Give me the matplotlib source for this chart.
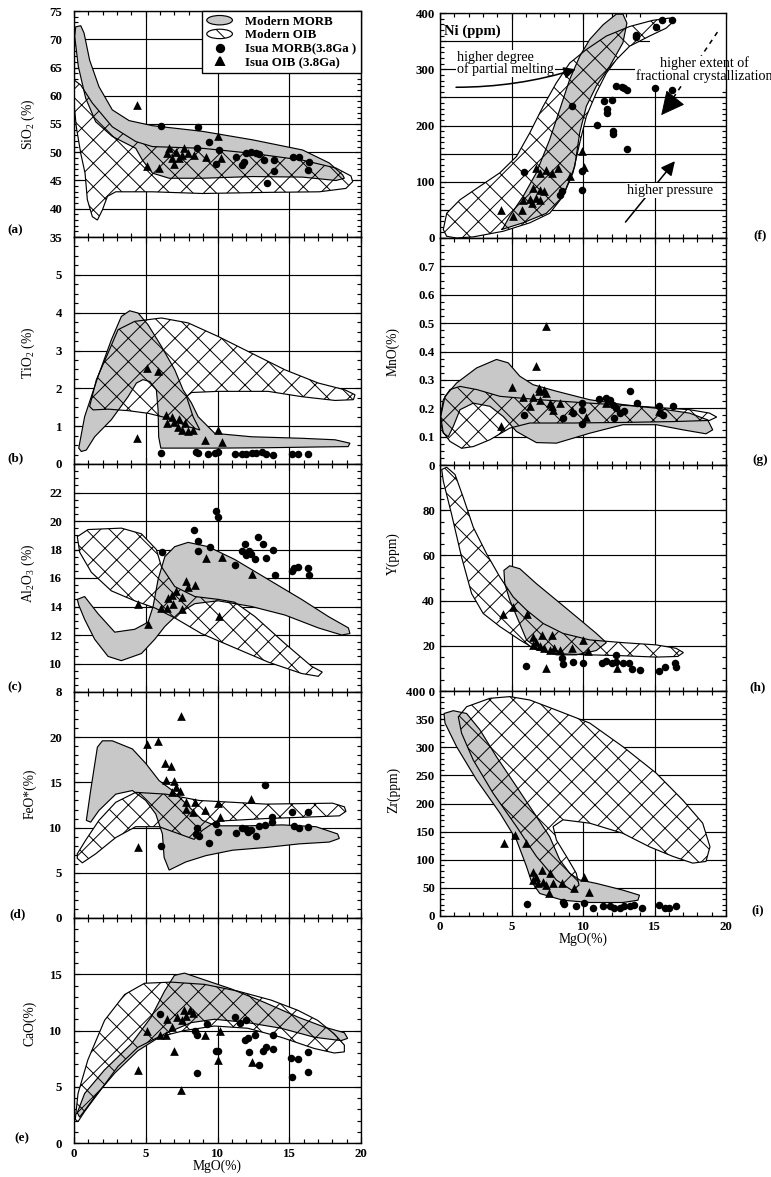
import matplotlib
matplotlib.use("Agg")
import matplotlib.pyplot as plt
import matplotlib.patches as mpatches
from matplotlib.lines import Line2D
from matplotlib.legend_handler import HandlerPatch
from matplotlib.ticker import MultipleLocator

plt.rcParams['font.family'] = ['Liberation Serif', 'DejaVu Serif']
plt.rcParams['mathtext.fontset'] = 'custom'
plt.rcParams['mathtext.rm'] = 'Liberation Serif'
plt.rcParams['hatch.linewidth'] = 0.5
plt.rcParams['axes.linewidth'] = 0.7

W, H, DPI = 771, 1177, 140
MORB_GREY = '#c8c8c8'
OIB_HATCH = 'xx'

# ---------------- data (MgO %, oxide / ppm) ----------------
X_TICKS = [0, 5, 10, 15, 20]
X_LABELS = ['0', '5', '10', '15', '20']
LEGEND_LABELS = ['Modern MORB', 'Modern OIB', 'Isua MORB(3.8Ga )', 'Isua OIB (3.8Ga)']

# (a) SiO2
SIO2_MORB = [(0.47, 72.4), (0.70, 71.1), (1.09, 66.3), (1.74, 61.6), (2.67, 57.5), (3.84, 55.6),
             (5.47, 54.7), (8.95, 53.7), (12.44, 52.2), (15.93, 50.4), (17.79, 48.1), (18.72, 46.0),
             (18.84, 45.4), (18.26, 45.0), (15.93, 45.6), (12.44, 45.7), (8.95, 45.4), (6.63, 45.4),
             (5.47, 46.3), (4.77, 48.6), (4.30, 50.7), (2.67, 52.8), (1.51, 55.4), (0.81, 59.6),
             (0.30, 65.2), (0.05, 70.5), (0.12, 72.2)]
SIO2_OIB = [(0.0, 62.8), (0.47, 61.9), (1.28, 58.7), (2.67, 54.5), (4.30, 51.9), (5.47, 51.0),
            (8.95, 50.7), (12.44, 49.8), (15.93, 48.6), (18.26, 47.2), (19.30, 45.8), (19.42, 44.8),
            (18.95, 43.6), (17.09, 43.0), (13.60, 42.9), (8.95, 42.7), (5.47, 43.0), (2.91, 43.0),
            (2.33, 42.2), (1.98, 39.8), (1.63, 38.0), (1.28, 38.6), (0.93, 41.6), (0.77, 46.3),
            (0.47, 49.8), (0.16, 54.5), (0.0, 58.7)]
SIO2_ISUA_MORB = [(6.05, 54.7), (8.65, 54.4), (9.42, 51.9), (10.12, 50.4), (9.88, 48.0), (11.28, 49.2),
                  (11.74, 47.8), (11.86, 48.2), (11.98, 49.8), (12.33, 50.1), (12.67, 49.9), (12.9, 49.7),
                  (13.26, 48.6), (13.95, 48.6), (13.95, 46.7), (13.42, 44.5), (15.23, 49.1), (15.7, 49.2),
                  (16.4, 48.3), (16.28, 46.9), (8.6, 50.7)]
SIO2_ISUA_OIB = [(4.42, 58.4), (5.12, 47.5), (5.93, 47.2), (6.51, 49.8), (6.63, 50.7), (6.86, 48.9),
                 (6.98, 48.0), (7.09, 50.1), (7.33, 48.9), (7.56, 49.5), (7.67, 50.7), (7.91, 49.8),
                 (8.37, 49.5), (9.19, 49.2), (10.0, 52.9), (10.23, 48.9)]
SIO2_TICKS = [35, 40, 45, 50, 55, 60, 65, 70, 75]
SIO2_LABELS = ['35', '40', '45', '50', '55', '60', '65', '70', '75']

# (b) TiO2
TIO2_MORB = [(0.33, 0.42), (0.74, 1.25), (1.67, 2.31), (2.6, 3.28), (3.3, 3.9), (3.88, 4.05),
             (4.47, 3.99), (5.16, 3.68), (6.09, 3.11), (7.02, 2.49), (7.6, 1.96), (8.19, 1.61),
             (8.65, 1.25), (9.81, 0.81), (12.37, 0.72), (15.86, 0.68), (18.19, 0.64), (19.23, 0.55),
             (19.1, 0.46), (17.0, 0.45), (13.5, 0.43), (10.05, 0.42), (7.02, 0.42), (6.05, 0.42),
             (5.9, 0.72), (5.86, 1.43), (5.74, 1.96), (5.28, 2.18), (4.81, 2.23), (4.35, 2.14),
             (3.77, 1.78), (2.6, 1.17), (1.44, 0.72), (0.86, 0.37), (0.51, 0.33)]
TIO2_OIB = [(1.09, 1.52), (1.56, 2.23), (2.37, 2.93), (3.07, 3.55), (4.23, 3.77), (6.09, 3.86),
            (7.95, 3.73), (10.05, 3.37), (12.37, 2.93), (14.7, 2.49), (17.02, 2.14), (18.88, 1.96),
            (19.58, 1.83), (19.47, 1.70), (18.19, 1.68), (15.86, 1.78), (13.53, 1.92), (10.05, 1.92),
            (8.19, 1.89), (7.84, 1.78), (8.3, 1.25), (8.77, 0.9), (7.95, 0.99), (6.56, 1.21),
            (5.16, 1.34), (3.77, 1.41), (2.37, 1.45), (1.33, 1.43)]
TIO2_ISUA_MORB = [(6.05, 0.3), (8.5, 0.32), (8.65, 0.28), (9.35, 0.27), (9.8, 0.3), (10.05, 0.33),
                  (11.2, 0.27), (11.7, 0.27), (12.0, 0.27), (12.4, 0.28), (12.7, 0.3), (13.1, 0.31),
                  (13.4, 0.26), (13.9, 0.25), (15.2, 0.27), (15.6, 0.26), (16.3, 0.27)]
TIO2_ISUA_OIB = [(4.42, 0.68), (5.1, 2.53), (5.86, 2.47), (6.4, 1.3), (6.51, 1.08), (6.86, 1.25),
                 (7.0, 1.12), (7.26, 0.99), (7.3, 1.2), (7.5, 0.9), (7.74, 1.08), (7.95, 0.86),
                 (8.3, 0.9), (9.16, 0.64), (10.05, 0.9), (10.28, 0.57)]
TIO2_TICKS = [0, 1, 2, 3, 4, 5, 6]
TIO2_LABELS = ['0', '1', '2', '3', '4', '5', '']

# (c) Al2O3
AL2O3_MORB = [(0.23, 14.5), (0.74, 14.7), (1.67, 13.5), (2.84, 12.2), (4.23, 12.4), (5.16, 12.9),
              (5.51, 14.0), (5.86, 15.9), (6.33, 17.5), (7.02, 18.2), (7.95, 18.5), (9.35, 18.2),
              (11.2, 17.3), (13.53, 15.9), (15.86, 14.5), (17.72, 13.3), (19.12, 12.5), (19.23, 12.1),
              (18.65, 12.0), (17.02, 12.5), (14.7, 13.4), (12.37, 14.0), (10.05, 14.4), (8.42, 14.2),
              (7.26, 13.5), (6.33, 12.6), (5.63, 11.7), (4.7, 10.7), (3.3, 10.2), (2.37, 10.5),
              (1.44, 11.7), (0.74, 13.1), (0.33, 14.1)]
AL2O3_OIB = [(0.23, 18.9), (0.98, 19.4), (3.3, 19.5), (4.7, 19.1), (5.74, 18.0), (6.09, 16.8),
             (7.02, 15.4), (8.42, 14.7), (10.05, 14.5), (11.2, 14.3), (12.6, 13.3), (14.7, 11.4),
             (16.56, 9.8), (17.3, 9.4), (17.02, 9.1), (15.86, 9.3), (13.53, 10.1), (11.2, 11.1),
             (8.88, 12.1), (7.02, 13.2), (5.63, 13.9), (4.23, 14.4), (2.6, 15.1), (1.21, 16.4),
             (0.4, 17.8)]
AL2O3_ISUA_MORB = [(8.37, 19.4), (8.65, 18.6), (8.65, 17.9), (9.5, 18.2), (9.93, 20.7), (10.05, 20.3),
                   (6.1, 17.8), (11.2, 16.9), (11.9, 18.4), (11.7, 17.9), (12.2, 17.9), (12.0, 17.6),
                   (12.3, 17.7), (12.6, 17.3), (12.8, 18.9), (13.2, 18.4), (13.4, 17.4), (13.9, 18.0),
                   (14.0, 16.2), (15.2, 16.5), (15.3, 16.7), (15.6, 16.8), (16.3, 16.7), (16.4, 16.2)]
AL2O3_ISUA_OIB = [(4.47, 14.2), (5.16, 12.8), (6.05, 13.9), (6.5, 13.9), (6.56, 14.6), (6.8, 14.8),
                  (7.1, 15.1), (7.5, 14.7), (7.5, 13.8), (7.8, 15.8), (7.95, 15.4), (8.4, 15.5),
                  (9.2, 17.4), (10.3, 17.5), (12.4, 16.3), (10.1, 13.3), (6.9, 14.2)]
AL2O3_TICKS = [8, 10, 12, 14, 16, 18, 20, 22, 24]
AL2O3_LABELS = ['8', '10', '12', '14', '16', '18', '20', '22', '']

# (d) FeO*
FEO_MORB = [(0.86, 10.8), (1.16, 14.1), (1.63, 18.9), (1.98, 19.6), (2.67, 19.6), (4.07, 18.7),
            (5.0, 17.1), (5.93, 15.2), (6.86, 14.1), (8.02, 12.3), (8.95, 10.8), (9.88, 10.2),
            (12.2, 10.2), (14.53, 10.3), (16.86, 10.1), (18.37, 9.3), (18.49, 8.8), (17.79, 8.4),
            (15.7, 8.2), (13.37, 7.8), (11.05, 7.5), (9.19, 6.9), (7.79, 6.2), (6.63, 5.3),
            (6.28, 6.7), (6.16, 9.3), (5.7, 11.5), (5.0, 13.0), (4.07, 14.1), (2.91, 13.7),
            (1.74, 11.9), (1.16, 10.6)]
FEO_OIB = [(0.23, 7.1), (0.81, 8.6), (1.74, 10.8), (2.91, 12.8), (4.3, 13.9), (6.4, 13.7),
           (8.72, 13.0), (13.37, 12.6), (18.02, 12.7), (18.84, 12.3), (18.95, 11.8), (18.49, 11.3),
           (16.86, 11.2), (13.37, 11.0), (9.88, 10.7), (8.95, 9.7), (8.37, 8.7), (7.33, 9.3),
           (5.93, 10.1), (4.3, 10.1), (2.91, 8.9), (1.51, 7.1), (0.58, 6.1), (0.23, 6.6)]
FEO_ISUA_MORB = [(6.05, 8.0), (8.6, 10.0), (8.5, 9.3), (8.7, 9.1), (9.9, 10.4), (10.0, 9.5), (9.4, 8.3),
                 (11.3, 9.4), (11.7, 10.0), (12.0, 9.9), (12.1, 9.5), (12.3, 9.7), (12.7, 9.1),
                 (12.9, 10.2), (13.3, 10.3), (13.3, 14.7), (13.8, 11.2), (13.8, 10.6), (15.2, 11.7),
                 (15.3, 10.2), (15.7, 10.0), (16.3, 11.7), (16.3, 10.1)]
FEO_ISUA_OIB = [(7.44, 22.4), (5.07, 19.3), (5.86, 19.6), (6.33, 17.1), (6.74, 16.8), (6.4, 15.3),
                (7.0, 15.2), (6.86, 13.9), (7.1, 14.5), (7.4, 14.1), (7.8, 12.8), (8.4, 12.8),
                (7.8, 12.1), (8.3, 11.7), (9.1, 11.9), (10.0, 12.7), (10.2, 11.2), (12.3, 13.2),
                (4.47, 7.8)]
FEO_TICKS = [0, 5, 10, 15, 20, 25]
FEO_LABELS = ['0', '5', '10', '15', '20', '']

# (e) CaO
CAO_MORB = [(0.23, 2.7), (0.74, 4.4), (2.13, 6.5), (3.99, 8.8), (5.38, 11.2), (6.31, 13.5),
            (7.0, 14.9), (7.7, 15.1), (8.63, 14.7), (10.95, 13.7), (13.27, 12.5), (15.59, 11.2),
            (17.45, 10.3), (18.84, 9.8), (19.07, 9.3), (18.61, 9.1), (16.75, 9.4), (14.43, 10.2),
            (12.11, 10.7), (9.79, 11.0), (8.17, 10.7), (6.31, 9.7), (4.45, 8.2), (2.83, 6.2),
            (1.44, 4.1), (0.63, 2.7), (0.39, 2.3)]
CAO_OIB = [(0.09, 2.1), (0.28, 4.4), (0.97, 7.4), (2.13, 10.9), (3.53, 13.2), (4.92, 14.2),
           (6.77, 14.3), (9.1, 14.1), (11.42, 13.5), (13.74, 12.7), (15.59, 11.8), (16.98, 10.9),
           (18.14, 9.7), (18.84, 8.7), (18.84, 8.1), (18.14, 8.0), (16.75, 8.4), (14.43, 9.4),
           (12.11, 10.2), (9.79, 10.4), (7.7, 10.0), (5.85, 9.4), (4.45, 8.5), (3.06, 6.8),
           (1.67, 4.4), (0.74, 2.8), (0.28, 1.9)]
CAO_ISUA_MORB = [(6.0, 11.5), (8.6, 9.6), (8.4, 10.0), (9.3, 10.6), (8.6, 6.2), (9.9, 8.2), (10.0, 8.2),
                 (11.2, 11.2), (11.6, 10.7), (12.0, 10.9), (11.9, 9.2), (12.1, 9.3), (12.6, 9.6),
                 (12.2, 8.1), (12.9, 6.9), (13.2, 8.2), (13.4, 8.5), (13.9, 8.4), (13.9, 9.6),
                 (15.1, 7.6), (15.6, 7.5), (15.2, 5.9), (16.3, 8.1), (16.3, 6.3)]
CAO_ISUA_OIB = [(4.45, 6.5), (5.1, 10.0), (5.96, 9.6), (6.4, 9.6), (6.5, 11.0), (6.8, 10.3),
                (7.2, 11.2), (7.5, 10.9), (7.7, 11.8), (7.8, 11.3), (8.05, 11.8), (8.3, 11.6),
                (7.0, 8.2), (7.47, 4.7), (9.14, 9.6), (10.0, 7.35), (10.2, 10.0), (12.4, 7.2)]
CAO_TICKS = [0, 5, 10, 15, 20]
CAO_LABELS = ['0', '5', '10', '15', '']

# (f) Ni
NI_MORB = [(4.3, 15), (5.81, 27), (7.44, 44), (8.6, 74), (9.42, 127), (9.77, 187), (10.23, 234),
           (10.93, 270), (11.86, 305), (12.79, 347), (13.07, 382), (12.79, 398), (12.33, 398),
           (11.4, 379), (10.47, 353), (9.77, 323), (9.07, 282), (8.37, 228), (7.67, 175),
           (6.74, 116), (5.81, 74), (4.88, 39), (4.42, 18)]
NI_OIB = [(0.23, 15), (0.47, 44), (1.4, 68), (2.79, 92), (4.19, 116), (5.35, 145), (6.28, 187),
          (7.21, 234), (8.14, 276), (9.07, 311), (10.23, 335), (11.63, 359), (13.26, 376), (14.88, 387),
          (16.05, 391), (16.33, 385), (15.81, 373), (14.65, 359), (13.26, 341), (12.33, 317),
          (11.63, 293), (10.93, 258), (10.23, 216), (9.77, 169), (9.3, 116), (8.6, 74), (7.67, 44),
          (6.28, 27), (4.42, 12), (2.33, 2), (1.16, 0), (0.47, 3)]
NI_ISUA_MORB = [(5.86, 117), (9.26, 234), (8.37, 77), (8.5, 83), (9.9, 85), (9.9, 120), (11.0, 201),
                (11.5, 243), (11.7, 229), (11.7, 222), (12.0, 246), (12.1, 190), (12.1, 185),
                (12.3, 271), (12.7, 268), (12.9, 267), (13.1, 264), (13.1, 158), (13.7, 361),
                (13.7, 358), (15.0, 267), (15.1, 376), (15.5, 387), (16.2, 264), (16.2, 388)]
NI_ISUA_OIB = [(4.3, 49), (5.07, 40), (5.7, 50), (5.8, 68), (6.3, 69), (6.4, 62), (6.7, 71), (7.0, 68),
               (6.5, 89), (7.0, 86), (7.3, 83), (6.74, 124), (7.0, 115), (7.44, 121), (7.8, 115),
               (8.26, 124), (9.07, 110), (9.9, 154), (10.1, 127)]
NI_TICKS = [0, 50, 100, 150, 200, 250, 300, 350, 400]
NI_LABELS = ['0', '', '100', '', '200', '', '300', '', '400']

# (g) MnO
MNO_MORB = [(0.05, 0.171), (0.35, 0.242), (1.16, 0.289), (2.56, 0.342), (3.95, 0.372), (4.77, 0.36),
            (5.58, 0.313), (6.51, 0.283), (8.14, 0.26), (10.47, 0.23), (12.79, 0.213), (15.12, 0.2),
            (17.44, 0.183), (18.72, 0.159), (19.07, 0.124), (18.6, 0.11), (16.98, 0.124),
            (15.12, 0.142), (12.79, 0.142), (10.47, 0.112), (8.14, 0.077), (6.74, 0.079),
            (5.35, 0.118), (4.42, 0.171), (3.49, 0.207), (2.33, 0.218), (1.4, 0.195), (0.93, 0.136),
            (0.58, 0.1), (0.23, 0.112)]
MNO_OIB = [(0.0, 0.159), (0.23, 0.23), (0.7, 0.266), (1.4, 0.277), (2.56, 0.266), (4.19, 0.242),
           (6.98, 0.23), (10.47, 0.218), (13.95, 0.207), (17.44, 0.195), (18.84, 0.183), (19.35, 0.169),
           (18.84, 0.157), (16.28, 0.153), (12.79, 0.15), (9.3, 0.148), (6.28, 0.148), (4.88, 0.13),
           (3.49, 0.089), (2.33, 0.065), (1.51, 0.059), (0.7, 0.083), (0.19, 0.118)]
MNO_ISUA_MORB = [(5.9, 0.177), (8.6, 0.165), (9.3, 0.183), (9.9, 0.195), (9.95, 0.145), (9.95, 0.218),
                 (11.1, 0.232), (11.6, 0.236), (11.9, 0.23), (12.1, 0.212), (12.3, 0.2), (12.6, 0.183),
                 (12.9, 0.189), (12.2, 0.165), (13.3, 0.26), (13.8, 0.218), (15.3, 0.209),
                 (15.4, 0.183), (16.3, 0.207), (15.6, 0.177)]
MNO_ISUA_OIB = [(7.4, 0.49), (6.74, 0.35), (5.05, 0.275), (4.3, 0.136), (5.8, 0.24), (6.3, 0.207),
                (6.5, 0.24), (6.9, 0.27), (6.9, 0.26), (7.26, 0.266), (7.4, 0.254), (7.0, 0.23),
                (7.7, 0.218), (7.8, 0.207), (7.9, 0.195), (8.4, 0.218), (9.2, 0.195), (10.2, 0.17),
                (11.6, 0.218), (15.3, 0.19)]
MNO_TICKS = [0, 0.1, 0.2, 0.3, 0.4, 0.5, 0.6, 0.7, 0.8]
MNO_LABELS = ['0', '0.1', '0.2', '0.3', '0.4', '0.5', '0.6', '0.7', '']

# (h) Y
Y_MORB = [(4.47, 53.4), (4.88, 55.4), (5.58, 54.1), (6.74, 47.5), (8.14, 40.2), (9.53, 32.9),
          (10.93, 25.5), (11.63, 21.4), (10.93, 17.9), (9.53, 16.0), (8.14, 16.0), (6.98, 18.2),
          (6.05, 22.6), (5.47, 31.4), (4.88, 40.2), (4.53, 47.5)]
Y_OIB = [(0.12, 98.0), (0.47, 99.0), (1.05, 95.8), (1.63, 85.6), (2.33, 72.4), (3.26, 60.7),
         (4.19, 50.4), (5.12, 41.6), (6.05, 35.8), (7.21, 29.9), (8.6, 25.5), (10.47, 22.6),
         (12.79, 21.4), (15.12, 20.4), (16.51, 18.9), (17.02, 17.0), (16.63, 15.3), (15.12, 15.0),
         (12.79, 15.6), (10.47, 16.0), (8.14, 16.5), (6.74, 18.2), (5.58, 22.6), (4.19, 28.5),
         (3.02, 34.3), (2.21, 43.1), (1.51, 59.2), (0.81, 78.2), (0.23, 92.9)]
Y_ISUA_MORB = [(6.0, 11.2), (8.5, 14.6), (8.6, 11.8), (9.3, 12.8), (10.0, 12.5), (11.3, 12.2),
               (11.6, 13.3), (12.0, 12.5), (12.3, 12.8), (12.8, 12.2), (13.2, 12.5), (12.3, 15.8),
               (13.4, 9.6), (14.0, 9.3), (15.3, 8.9), (15.7, 10.8), (16.4, 12.2), (16.5, 10.8)]
Y_ISUA_OIB = [(4.4, 33.9), (5.1, 37.3), (6.05, 34.0), (6.5, 24.1), (7.1, 24.8), (7.8, 24.8),
              (6.5, 20.4), (7.0, 19.7), (7.3, 19.0), (7.7, 18.2), (8.0, 19.0), (8.4, 18.2),
              (9.2, 19.0), (10.0, 22.6), (10.35, 17.5), (7.44, 10.2), (12.4, 10.2), (6.7, 21.9)]
Y_TICKS = [0, 20, 40, 60, 80, 100]
Y_LABELS = ['', '20', '40', '60', '80', '']

# (i) Zr
ZR_MORB = [(0.28, 360), (0.93, 365), (1.86, 360), (2.79, 331), (3.95, 283), (5.35, 230), (6.74, 177),
           (7.67, 141), (8.37, 100), (9.07, 76), (9.77, 64), (10.93, 58), (12.79, 46), (13.95, 37),
           (13.84, 28), (12.79, 24), (10.47, 24), (8.6, 28), (6.98, 40), (6.4, 61), (6.05, 88),
           (5.35, 135), (4.19, 183), (2.56, 242), (1.16, 301), (0.35, 343)]
ZR_OIB = [(1.28, 354), (1.86, 372), (3.49, 387), (4.88, 390), (6.28, 384), (8.14, 366), (10.47, 343),
          (12.79, 301), (15.12, 254), (16.98, 206), (18.37, 165), (18.88, 123), (18.6, 97),
          (17.67, 94), (16.28, 106), (14.65, 123), (12.79, 147), (10.47, 165), (8.6, 171),
          (7.91, 159), (8.14, 135), (8.84, 106), (9.53, 76), (9.72, 55), (9.26, 45), (8.14, 64),
          (6.74, 106), (5.35, 159), (3.72, 218), (2.33, 277), (1.51, 325)]
ZR_ISUA_MORB = [(6.05, 21), (8.6, 25), (8.7, 22), (9.5, 17), (10.1, 24), (10.7, 14), (11.4, 17),
                (11.9, 18), (12.2, 14), (12.6, 15), (12.9, 17), (13.3, 18), (13.6, 20), (14.1, 14),
                (15.3, 20), (15.7, 15), (16.0, 14), (16.5, 17)]
ZR_ISUA_OIB = [(4.47, 129), (5.23, 144), (6.0, 129), (6.5, 79), (6.74, 70), (7.1, 82), (6.5, 64),
               (6.86, 58), (7.2, 61), (7.67, 76), (7.44, 55), (7.9, 58), (8.5, 58), (7.6, 41),
               (9.4, 49), (10.1, 70), (10.4, 42)]
ZR_TICKS = [0, 50, 100, 150, 200, 250, 300, 350, 400]
ZR_LABELS = ['0', '50', '100', '150', '200', '250', '300', '350', '400 0']

# ---------------- layout (pixels in the 771x1177 page) ----------------
LEFT_COL = (74, 361)
RIGHT_COL = (440, 726)

PANELS = [
    dict(col=LEFT_COL, rows=(11, 237), morb=SIO2_MORB, oib=SIO2_OIB, pm=SIO2_ISUA_MORB, po=SIO2_ISUA_OIB,
         ticks=SIO2_TICKS, labels=SIO2_LABELS, minor=1, ylabel='SiO$_2$ (%)', ly=0.5, tag='(a)', tagxy=(15, 230)),
    dict(col=LEFT_COL, rows=(237, 464), morb=TIO2_MORB, oib=TIO2_OIB, pm=TIO2_ISUA_MORB, po=TIO2_ISUA_OIB,
         ticks=TIO2_TICKS, labels=TIO2_LABELS, minor=0.25, ylabel='TiO$_2$ (%)', ly=0.49, tag='(b)', tagxy=(15, 458)),
    dict(col=LEFT_COL, rows=(464, 692), morb=AL2O3_MORB, oib=AL2O3_OIB, pm=AL2O3_ISUA_MORB, po=AL2O3_ISUA_OIB,
         ticks=AL2O3_TICKS, labels=AL2O3_LABELS, minor=0.5, ylabel='Al$_2$O$_3$ (%)', ly=0.52, tag='(c)', tagxy=(15, 687)),
    dict(col=LEFT_COL, rows=(692, 918), morb=FEO_MORB, oib=FEO_OIB, pm=FEO_ISUA_MORB, po=FEO_ISUA_OIB,
         ticks=FEO_TICKS, labels=FEO_LABELS, minor=1, ylabel='FeO*(%)', ly=0.55, tag='(d)', tagxy=(18, 914)),
    dict(col=LEFT_COL, rows=(918, 1143), morb=CAO_MORB, oib=CAO_OIB, pm=CAO_ISUA_MORB, po=CAO_ISUA_OIB,
         ticks=CAO_TICKS, labels=CAO_LABELS, minor=1, ylabel='CaO(%)', ly=0.53, tag='(e)', tagxy=(22, 1138)),
    dict(col=RIGHT_COL, rows=(13, 238), morb=NI_MORB, oib=NI_OIB, pm=NI_ISUA_MORB, po=NI_ISUA_OIB,
         ticks=NI_TICKS, labels=NI_LABELS, minor=10, ylabel=None, ly=0.5, tag='(f)', tagxy=(760, 235)),
    dict(col=RIGHT_COL, rows=(238, 465), morb=MNO_MORB, oib=MNO_OIB, pm=MNO_ISUA_MORB, po=MNO_ISUA_OIB,
         ticks=MNO_TICKS, labels=MNO_LABELS, minor=0.025, ylabel='MnO(%)', ly=0.5, tag='(g)', tagxy=(760, 460)),
    dict(col=RIGHT_COL, rows=(465, 691), morb=Y_MORB, oib=Y_OIB, pm=Y_ISUA_MORB, po=Y_ISUA_OIB,
         ticks=Y_TICKS, labels=Y_LABELS, minor=5, ylabel='Y(ppm)', ly=0.61, tag='(h)', tagxy=(758, 687)),
    dict(col=RIGHT_COL, rows=(691, 916), morb=ZR_MORB, oib=ZR_OIB, pm=ZR_ISUA_MORB, po=ZR_ISUA_OIB,
         ticks=ZR_TICKS, labels=ZR_LABELS, minor=10, ylabel='Zr(ppm)', ly=0.56, tag='(i)', tagxy=(758, 910)),
]
BOTTOM_PANELS = ('(e)', '(i)')


def ellipse_handle(legend, orig_handle, xdescent, ydescent, width, height, fontsize):
    return mpatches.Ellipse((width / 2 - xdescent, height / 2 - ydescent), width, height)


def draw_fields(ax, morb, oib):
    # white OIB base, grey MORB, then OIB cross-hatch over both
    ax.add_patch(mpatches.Polygon(oib, closed=True, fc='white', ec='none', zorder=1))
    ax.add_patch(mpatches.Polygon(morb, closed=True, fc=MORB_GREY, ec='k', lw=0.6, zorder=2))
    ax.add_patch(mpatches.Polygon(oib, closed=True, fc='none', ec='k', lw=0.6, hatch=OIB_HATCH, zorder=3))


def draw_samples(ax, morb_pts, oib_pts):
    xs, ys = zip(*morb_pts)
    ax.scatter(xs, ys, s=15, marker='o', c='k', lw=0, zorder=5)
    xs, ys = zip(*oib_pts)
    ax.scatter(xs, ys, s=20, marker='^', c='k', lw=0, zorder=5)


fig = plt.figure(figsize=(W / DPI, H / DPI), dpi=DPI)
axes = {}

for p in PANELS:
    l, r = p['col']
    t, b = p['rows']
    ax = fig.add_axes([l / W, 1 - b / H, (r - l) / W, (b - t) / H])
    axes[p['tag']] = ax
    ax.set_xlim(0, 20)
    ax.set_ylim(p['ticks'][0], p['ticks'][-1])
    left_col = p['col'] == LEFT_COL

    draw_fields(ax, p['morb'], p['oib'])
    draw_samples(ax, p['pm'], p['po'])

    ax.set_axisbelow(True)
    ax.grid(True, which='major', color='k', lw=0.6)
    ax.set_yticks(p['ticks'], p['labels'], fontsize=6.6, fontweight='bold')
    ax.yaxis.set_minor_locator(MultipleLocator(p['minor']))
    ax.xaxis.set_minor_locator(MultipleLocator(1))
    ax.tick_params(which='both', direction='in', top=True, right=True, width=0.6)
    ax.tick_params(which='major', length=3)
    ax.tick_params(which='minor', length=2)
    ax.tick_params(axis='y', pad=6 if left_col else 2.5)
    for sp in ax.spines.values():
        sp.set_zorder(10)

    if p['tag'] in BOTTOM_PANELS:
        ax.set_xticks(X_TICKS, X_LABELS, fontsize=6.6, fontweight='bold')
        ax.tick_params(axis='x', pad=2.5)
        ax.set_xlabel('MgO(%)', fontsize=7, labelpad=0)
    else:
        ax.set_xticks(X_TICKS)
        ax.tick_params(axis='x', labelbottom=False)

    if p['ylabel']:
        ax.set_ylabel(p['ylabel'], fontsize=7)
        ax.yaxis.set_label_coords(-0.129 if left_col else -0.14, p['ly'])

    tx, ty = p['tagxy']
    fig.text(tx / W, 1 - ty / H, p['tag'], fontsize=6.8, fontweight='bold', ha='center', va='center')

# legend in (a)
ax = axes['(a)']
handles = [
    mpatches.Patch(fc=MORB_GREY, ec='k', lw=0.6),
    mpatches.Patch(fc='white', ec='k', lw=0.6, hatch='x'),
    Line2D([], [], ls='none', marker='o', color='k', ms=3.8),
    Line2D([], [], ls='none', marker='^', color='k', ms=4.2),
]
leg = ax.legend(handles, LEGEND_LABELS, loc='upper right', borderaxespad=0, fancybox=False,
                framealpha=1, edgecolor='k',
                handler_map={mpatches.Patch: HandlerPatch(patch_func=ellipse_handle)},
                prop={'size': 6.6, 'weight': 'bold'}, handlelength=2.0, handleheight=0.75,
                labelspacing=0.12, borderpad=0.35, handletextpad=1.0)
leg.get_frame().set_linewidth(0.7)
leg.set_zorder(20)

# annotations in (f)
ax = axes['(f)']
ax.add_patch(mpatches.Rectangle((14.7, 265), 5.3, 135, fc='white', ec='none', zorder=0.8))
box = dict(facecolor='white', edgecolor='none', pad=0.4)
ax.text(0.25, 367, 'Ni (ppm)', fontsize=7.6, fontweight='bold', va='center', ha='left', zorder=6)
ax.text(1.2, 310, 'higher degree\nof partial melting', fontsize=7.2, va='center', ha='left',
        linespacing=0.9, bbox=box, zorder=6)
ax.annotate('', xy=(9.75, 302), xytext=(0.85, 268),
            arrowprops=dict(arrowstyle='-|>,head_length=0.5,head_width=0.25', color='k', lw=0.8,
                            connectionstyle='arc3,rad=0.08', mutation_scale=10), zorder=6)
ax.plot([19.4, 15.75], [366, 228], ls=(0, (3, 3)), color='k', lw=0.8, clip_on=False, zorder=4)
ax.annotate('', xy=(15.3, 213), xytext=(15.9, 232),
            arrowprops=dict(arrowstyle='-|>,head_length=0.9,head_width=0.45', color='k', lw=0.5,
                            mutation_scale=12), zorder=6)
ax.text(18.5, 299, 'higher extent of\nfractional crystallization', fontsize=7.2, va='center',
        ha='center', multialignment='center', linespacing=0.9, bbox=box, zorder=6)
ax.annotate('', xy=(16.6, 142), xytext=(12.8, 23),
            arrowprops=dict(arrowstyle='-|>,head_length=0.6,head_width=0.3', color='k', lw=0.8,
                            mutation_scale=10), zorder=5)
ax.text(16.1, 85, 'higher pressure', fontsize=7.2, va='center', ha='center', bbox=box, zorder=6)

fig.savefig('out.png', dpi=DPI)
